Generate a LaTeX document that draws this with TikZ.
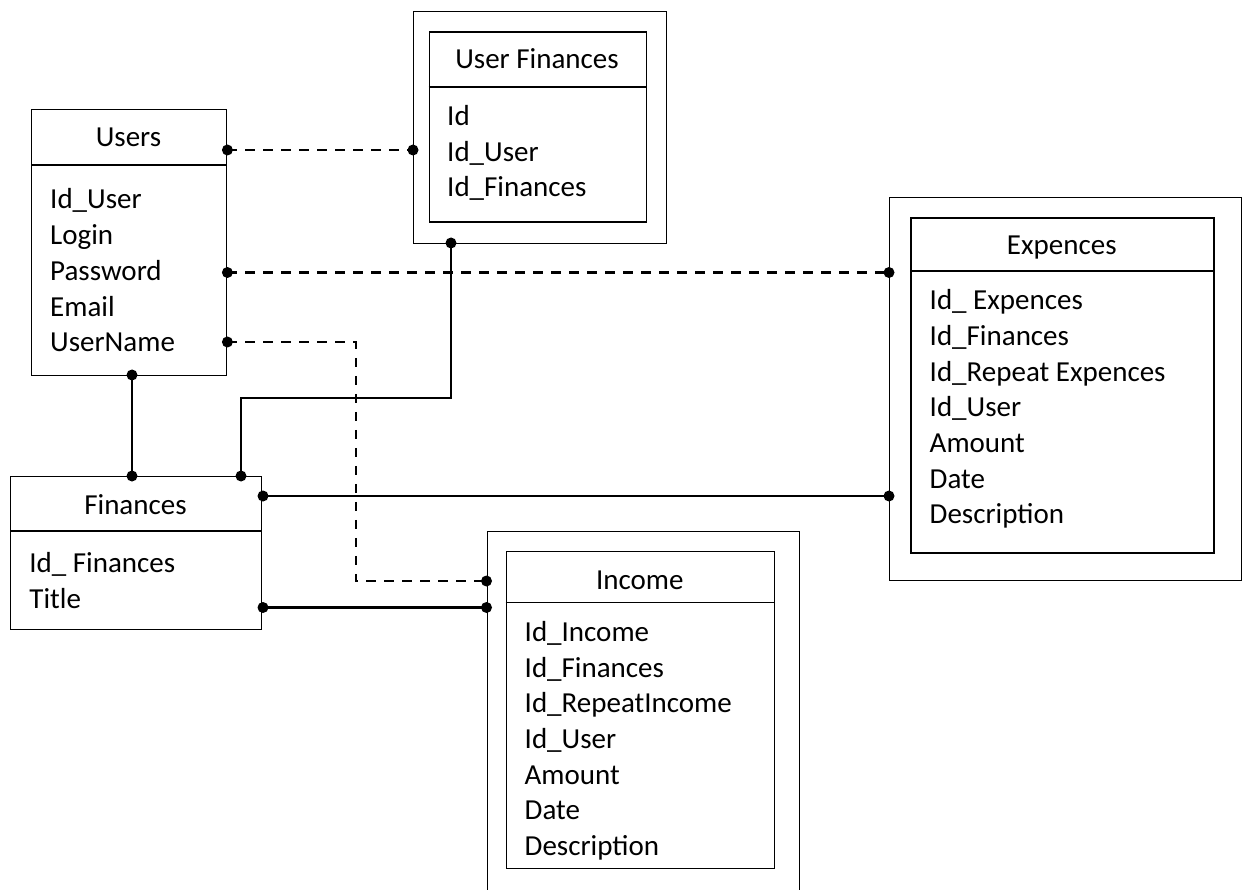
\documentclass[tikz,border=0pt]{standalone}
\usepackage{fontspec}
\setmainfont{Carlito}
\usetikzlibrary{calc}

% one text line per field, stacked at a fixed baseline step
\newcommand\fieldrows[5]{%
  \foreach \txt [count=\i] in {#5}
    \node[field] (#1-\i) at (#2, {#3+(\i-1)*#4}) {\txt};}

\begin{document}
\begin{tikzpicture}[x=1pt, y=-1pt,
  frame/.style={draw, line width=1.4pt, rectangle, inner sep=0pt, anchor=north west},
  rule/.style={line width=1.4pt},
  title/.style={font=\fontsize{29}{35.7}\selectfont, inner sep=0pt, anchor=base},
  field/.style={font=\fontsize{29}{35.7}\selectfont, inner sep=0pt, anchor=base west},
  link/.style={line width=2.3pt},
  reflink/.style={line width=2.2pt, dash pattern=on 9.5pt off 8.5pt},
  dot/.style={circle, fill, inner sep=0pt, minimum size=11pt}]

\useasboundingbox (0,0) rectangle (1242,890);
\clip (0,0) rectangle (1242,890);

% ---------- Users ----------
\node[frame, minimum width=195pt, minimum height=266pt] (users) at (31,109) {};
\draw[rule] (users.west |- 0,165) -- (users.east |- 0,165);
\node[title] (users-t) at (128.5,147) {Users};
\fieldrows{users}{50}{209}{35.7}{Id\_User,Login,Password,Email,UserName}

% ---------- User Finances ----------
\node[frame, minimum width=253pt, minimum height=232pt] (ufo) at (413,11) {};
\node[frame, minimum width=217pt, minimum height=190pt] (ufi) at (428.5,31.3) {};
\draw[rule] (ufi.west |- 0,87) -- (ufi.east |- 0,87);
\node[title] (ufi-t) at (537,69) {User Finances};
\fieldrows{ufi}{447}{126}{35.5}{Id,Id\_User,Id\_Finances}

% ---------- Expences ----------
\node[frame, minimum width=352pt, minimum height=383pt] (expo) at (889,196.7) {};
\node[frame, minimum width=303pt, minimum height=335pt] (expi) at (910.3,217.3) {};
\draw[rule] (expi.west |- 0,271) -- (expi.east |- 0,271);
\node[title] (expi-t) at (1061.8,255) {Expences};
\fieldrows{expi}{929.5}{309.7}{35.7}{Id\_ Expences,Id\_Finances,Id\_Repeat Expences,Id\_User,Amount,Date,Description}

% ---------- Finances ----------
\node[frame, minimum width=251pt, minimum height=153pt] (fin) at (10,476) {};
\draw[rule] (fin.west |- 0,531) -- (fin.east |- 0,531);
\node[title] (fin-t) at (135.5,514) {Finances};
\fieldrows{fin}{29.2}{572.3}{35.7}{Id\_ Finances,Title}

% ---------- Income ----------
\node[frame, minimum width=312.5pt, minimum height=380pt] (inco) at (486.5,531) {};
\node[frame, minimum width=268.3pt, minimum height=317pt] (inci) at (505.7,551) {};
\draw[rule] (inci.west |- 0,602.3) -- (inci.east |- 0,602.3);
\node[title] (inci-t) at (639.8,589) {Income};
\fieldrows{inci}{524.5}{641.3}{35.7}{Id\_Income,Id\_Finances,Id\_RepeatIncome,Id\_User,Amount,Date,Description}

% ---------- connection ends ----------
\node[dot] (u-uf)  at (users.east |- 0,150)   {};
\node[dot] (uf-u)  at (ufo.west  |- 0,150)   {};
\node[dot] (u-exp) at (users.east |- 0,272.5) {};
\node[dot] (exp-u) at (expo.west |- 0,272.5) {};
\node[dot] (u-inc) at (users.east |- 0,342)  {};
\node[dot] (inc-u) at (inco.west |- 0,581)   {};
\node[dot] (u-fin) at (132,375)  {};
\node[dot] (fin-u) at (132,476)  {};
\node[dot] (uf-fin) at (451,243) {};
\node[dot] (fin-uf) at (241,476) {};
\node[dot] (fin-exp) at (263,496) {};
\node[dot] (exp-fin) at (expo.west |- 0,496) {};
\node[dot] (fin-inc) at (263,607.5) {};
\node[dot] (inc-fin) at (inco.west |- 0,607.5) {};

\coordinate (dropx) at (355.6,0);
\coordinate (stepy) at (300,398);

% ---------- connectors ----------
\draw[reflink] (u-uf.center) -- (uf-u.center);
\draw[reflink] (u-exp.center) -- (exp-u.center);
\draw[reflink] (u-inc.center) -- (u-inc.center -| dropx) |- (inc-u.center);
\draw[link] (u-fin.center) -- (fin-u.center);
\draw[link] (uf-fin.center) |- (stepy) -| (fin-uf.center);
\draw[link] (fin-exp.center) -- (exp-fin.center);
\draw[link] (fin-inc.center) -- (inc-fin.center);
\end{tikzpicture}
\end{document}
